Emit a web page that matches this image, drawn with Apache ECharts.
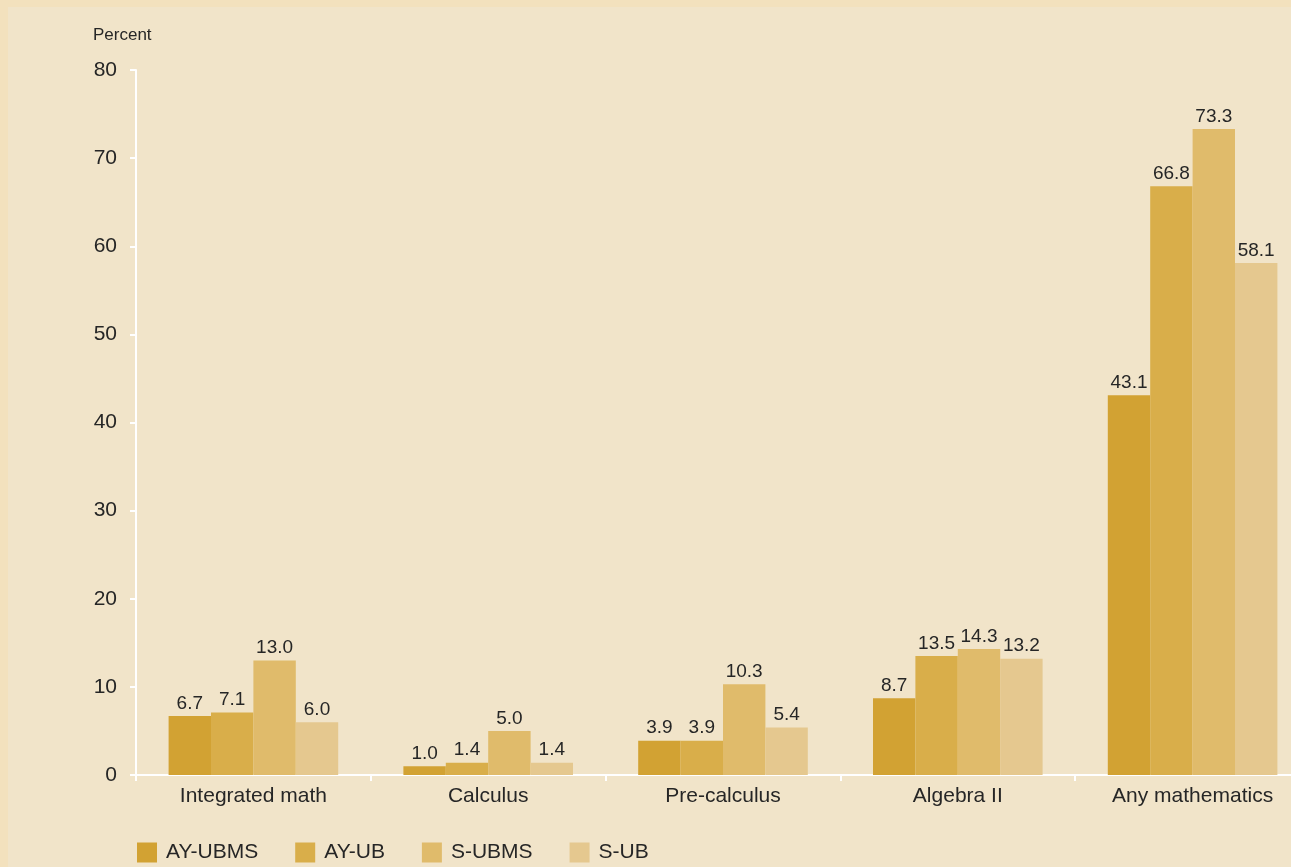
<!DOCTYPE html>
<html>
<head>
<meta charset="utf-8">
<script src="https://cdn.jsdelivr.net/npm/echarts@6/dist/echarts.min.js"></script>
<style>
html,body{margin:0;padding:0;width:1291px;height:867px;overflow:hidden;background:#f3e1bd;}
#frame{position:absolute;left:8px;top:7px;right:0;bottom:0;background:#f1e4c9;}
#chart{position:absolute;left:0;top:0;width:1310px;height:867px;}
</style>
</head>
<body>
<div id="frame"></div>
<div id="chart"></div>
<script>
const categories = ["Integrated math", "Calculus", "Pre-calculus", "Algebra II", "Any mathematics"];
const seriesNames = ["AY-UBMS", "AY-UB", "S-UBMS", "S-UB"];
const ayUbms = [6.7, 1.0, 3.9, 8.7, 43.1];
const ayUb = [7.1, 1.4, 3.9, 13.5, 66.8];
const sUbms = [13.0, 5.0, 10.3, 14.3, 73.3];
const sUb = [6.0, 1.4, 5.4, 13.2, 58.1];
const colors = ["#d2a233", "#d9ae4a", "#e0bb6b", "#e5c88f"];

const font = "'Liberation Sans', Arial, sans-serif";
const textColor = "#262626";
const allData = [ayUbms, ayUb, sUbms, sUb];

const chart = echarts.init(document.getElementById('chart'), null, {renderer: 'canvas'});
chart.setOption({
  backgroundColor: 'transparent',
  animation: false,
  textStyle: {fontFamily: font, color: textColor},
  grid: {left: 136, right: 0, top: 70, bottom: 92, containLabel: false},
  graphic: [{
    type: 'text', left: 93, top: 27,
    style: {text: 'Percent', font: "17px " + font, fill: textColor}
  }],
  legend: {
    left: 137, top: 842, padding: 0,
    itemWidth: 20, itemHeight: 20, itemGap: 37,
    icon: 'rect',
    textStyle: {fontFamily: font, fontSize: 21, color: textColor, padding: [0, 0, 0, 4]},
    data: seriesNames
  },
  xAxis: {
    type: 'category',
    data: categories,
    axisLine: {lineStyle: {color: '#ffffff', width: 2}},
    axisTick: {show: true, length: 6, lineStyle: {color: '#ffffff', width: 2}},
    axisLabel: {fontFamily: font, fontSize: 21, color: textColor, margin: 11}
  },
  yAxis: {
    type: 'value',
    min: 0, max: 80, interval: 10,
    axisLine: {show: true, lineStyle: {color: '#ffffff', width: 2}},
    axisTick: {show: true, length: 6, lineStyle: {color: '#ffffff', width: 2}},
    splitLine: {show: false},
    axisLabel: {fontFamily: font, fontSize: 21, color: textColor, margin: 19}
  },
  series: seriesNames.map((name, i) => ({
    name: name,
    type: 'bar',
    data: allData[i],
    barWidth: 42.4,
    barGap: '0%',
    itemStyle: {color: colors[i]},
    label: {
      show: true, position: 'top', distance: 3,
      fontFamily: font, fontSize: 19, color: textColor,
      formatter: p => p.value.toFixed(1)
    }
  }))
});
</script>
</body>
</html>
